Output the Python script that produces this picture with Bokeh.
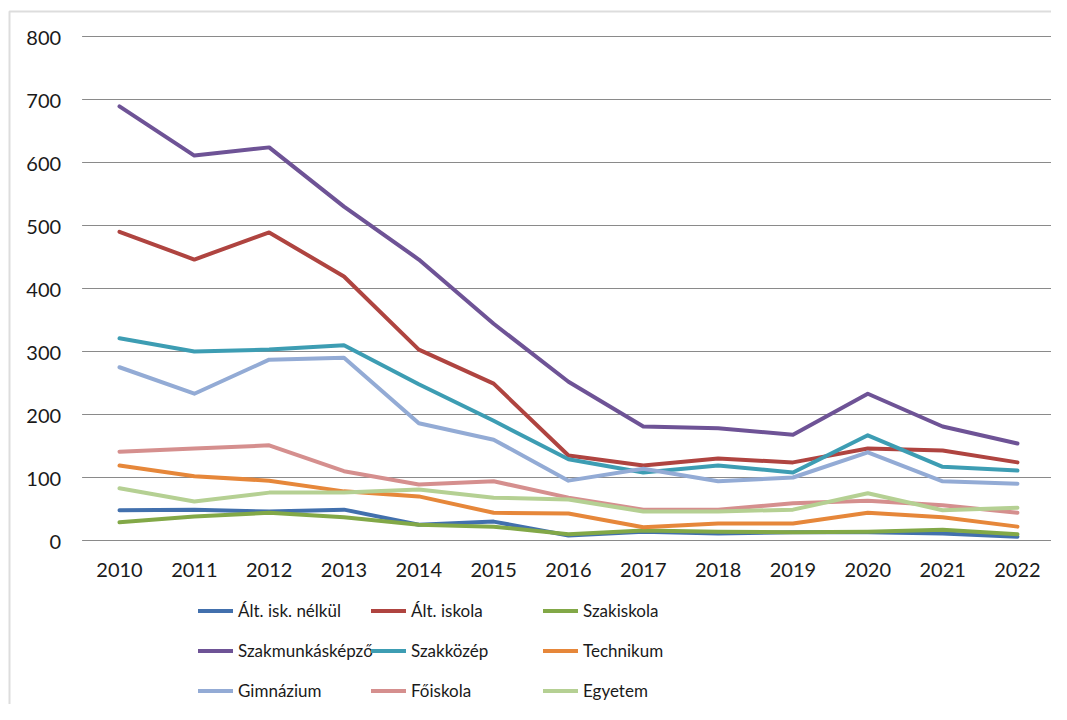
from bokeh.plotting import figure
from bokeh.models import Range1d, Legend, LegendItem, BoxAnnotation
from bokeh.core.properties import value
from bokeh.embed import file_html
from bokeh.resources import INLINE

years = [2010, 2011, 2012, 2013, 2014, 2015, 2016, 2017, 2018, 2019, 2020, 2021, 2022]
year_labels = [str(y) for y in years]

alt_isk_nelkul = [48, 49, 46, 49, 25, 30, 8, 14, 11, 13, 13, 11, 6]
alt_iskola = [490, 446, 489, 419, 303, 249, 135, 119, 130, 124, 146, 143, 124]
szakiskola = [29, 38, 44, 37, 25, 22, 10, 16, 14, 13, 14, 17, 10]
szakmunkaskepzo = [689, 611, 624, 530, 446, 344, 252, 181, 178, 168, 233, 181, 154]
szakkozep = [321, 300, 303, 310, 248, 190, 129, 108, 119, 108, 167, 117, 111]
technikum = [119, 102, 95, 78, 70, 44, 43, 21, 27, 27, 44, 37, 22]
gimnazium = [275, 233, 287, 290, 186, 160, 95, 114, 94, 100, 140, 94, 90]
foiskola = [141, 146, 151, 110, 89, 94, 68, 49, 49, 59, 63, 56, 44]
egyetem = [83, 62, 76, 76, 81, 68, 65, 46, 46, 49, 75, 48, 52]

series_names = ["Ált. isk. nélkül", "Ált. iskola", "Szakiskola",
                "Szakmunkásképző", "Szakközép", "Technikum",
                "Gimnázium", "Főiskola", "Egyetem"]
series_values = [alt_isk_nelkul, alt_iskola, szakiskola,
                 szakmunkaskepzo, szakkozep, technikum,
                 gimnazium, foiskola, egyetem]
colors = ["#4270AD", "#AF4440", "#82A847",
          "#6E5396", "#3D9DB3", "#E6873A",
          "#93ABD5", "#D58F8E", "#B5D093"]
y_ticks = [0, 100, 200, 300, 400, 500, 600, 700, 800]
y_tick_labels = [str(v) for v in y_ticks]

FONT = "Lato"

# ---- layout (pixels) ----
W, H = 1051, 704
X_FIRST_PX, PX_PER_YEAR = 119.0, 74.83     # x pixel of first year, spacing
Y_ZERO_PX, PX_PER_UNIT = 540.0, 0.63       # y pixel of value 0, pixels per unit

x0 = years[0] - X_FIRST_PX / PX_PER_YEAR
x1 = years[0] + (W - X_FIRST_PX) / PX_PER_YEAR
ytop = Y_ZERO_PX / PX_PER_UNIT
ybot = -(H - Y_ZERO_PX) / PX_PER_UNIT

p = figure(width=W, height=H, output_backend="svg", toolbar_location=None,
           x_range=Range1d(x0, x1), y_range=Range1d(ybot, ytop),
           min_border=0, min_border_left=0, min_border_right=0,
           min_border_top=0, min_border_bottom=0)
p.axis.visible = False
p.grid.visible = False
p.outline_line_color = None
p.background_fill_color = "white"
p.border_fill_color = "white"

# chart border (left and top edges visible)
bx = years[0] + (9 - X_FIRST_PX) / PX_PER_YEAR
by = (Y_ZERO_PX - 11) / PX_PER_UNIT
p.add_layout(BoxAnnotation(left=bx, top=by, right=x1 + 50, bottom=ybot - 500,
                           fill_alpha=0, line_color="#8e8e8e", line_width=2))

# gridlines
gx0 = years[0] - 0.5
gx1 = years[-1] + 0.5
p.segment(x0=[gx0] * len(y_ticks), x1=[gx1] * len(y_ticks), y0=y_ticks, y1=y_ticks,
          line_color="#8a8a8a", line_width=1)

# tick labels
p.text(x=[gx0] * len(y_ticks), y=y_ticks, text=y_tick_labels, x_offset=-21, y_offset=1,
       text_align="right", text_baseline="middle", text_font=value(FONT),
       text_font_size="20px", text_color="#1a1a1a")
p.text(x=years, y=[0] * len(years), text=year_labels, y_offset=29,
       text_align="center", text_baseline="middle", text_font=value(FONT),
       text_font_size="20px", text_color="#1a1a1a")

renderers = []
for name, vals, col in zip(series_names, series_values, colors):
    r = p.line(years, vals, line_color=col, line_width=4, line_join="round", line_cap="round")
    renderers.append(r)

col_x = [198, 371, 543]
for c in range(3):
    items = [LegendItem(label=series_names[row * 3 + c], renderers=[renderers[row * 3 + c]])
             for row in range(3)]
    lg = Legend(items=items, location=(col_x[c], 2), orientation="vertical",
                glyph_width=35, glyph_height=23, label_height=23, label_standoff=5,
                spacing=17, padding=0, margin=0,
                label_text_font=FONT, label_text_font_size="17px", label_text_color="#1a1a1a",
                border_line_color=None, background_fill_alpha=0)
    p.add_layout(lg, "center")

open("out.html", "w").write(file_html(p, INLINE))
